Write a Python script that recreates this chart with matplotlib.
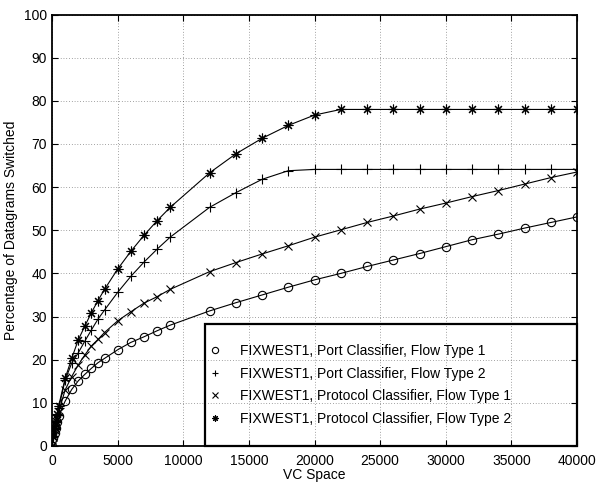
import matplotlib
matplotlib.use('Agg')
import matplotlib.pyplot as plt
from matplotlib.patches import Rectangle
from matplotlib.lines import Line2D

plt.rcParams['font.family'] = ['Liberation Sans', 'DejaVu Sans']

# VC space sample points
vc = [0, 100, 200, 300, 400, 500, 1000, 1500, 2000, 2500, 3000, 3500, 4000,
      5000, 6000, 7000, 8000, 9000, 12000, 14000, 16000, 18000, 20000, 22000,
      24000, 26000, 28000, 30000, 32000, 34000, 36000, 38000, 40000]

port_ft1 = [0, 1.8, 3.0, 4.2, 5.5, 7.0, 10.4, 13.1, 15.1, 16.6, 18.0, 19.3, 20.3,
            22.3, 24.0, 25.3, 26.7, 28.0, 31.3, 33.2, 35.0, 36.8, 38.5, 40.0,
            41.6, 43.1, 44.6, 46.2, 47.8, 49.1, 50.5, 51.8, 53.1]
port_ft2 = [0, 2.2, 4.0, 5.6, 7.2, 8.7, 15.3, 19.2, 21.6, 24.3, 26.9, 29.4, 31.5,
            35.6, 39.3, 42.6, 45.6, 48.4, 55.3, 58.7, 61.8, 63.8, 64.1, 64.1,
            64.1, 64.1, 64.1, 64.1, 64.1, 64.1, 64.1, 64.1, 64.1]
proto_ft1 = [0, 2.0, 3.6, 5.0, 6.3, 7.8, 13.0, 16.1, 18.8, 21.1, 23.2, 24.7, 26.3,
             29.0, 31.1, 33.1, 34.6, 36.3, 40.4, 42.5, 44.5, 46.4, 48.4, 50.1,
             51.8, 53.3, 54.9, 56.3, 57.8, 59.2, 60.7, 62.2, 63.5]
proto_ft2 = [0, 2.3, 4.2, 5.9, 7.5, 9.2, 15.7, 20.3, 24.6, 27.8, 30.9, 33.7, 36.3,
             41.0, 45.1, 48.8, 52.2, 55.3, 63.3, 67.7, 71.3, 74.3, 76.7, 78.0,
             78.0, 78.0, 78.0, 78.0, 78.0, 78.0, 78.0, 78.0, 78.0]

labels = ['FIXWEST1, Port Classifier, Flow Type 1',
          'FIXWEST1, Port Classifier, Flow Type 2',
          'FIXWEST1, Protocol Classifier, Flow Type 1',
          'FIXWEST1, Protocol Classifier, Flow Type 2']
series = [port_ft1, port_ft2, proto_ft1, proto_ft2]
markers = ['o', '+', 'x', (8, 2, 0)]
msizes = [6, 7, 6, 7]

fig = plt.figure(figsize=(5.98, 4.87), dpi=100)
ax = fig.add_axes([0.087, 0.0842, 0.878, 0.886])

for ys, m, ms in zip(series, markers, msizes):
    ax.plot(vc, ys, color='black', linewidth=0.8, marker=m, markersize=ms,
            markerfacecolor='none', markeredgecolor='black', markeredgewidth=0.8)

ax.set_xlim(0, 40000)
ax.set_ylim(0, 100)
ax.set_xticks(range(0, 40001, 5000))
ax.set_yticks(range(0, 101, 10))
ax.ticklabel_format(style='plain', axis='x')
ax.tick_params(direction='in', top=True, right=True, labelsize=10, length=4, width=0.8)
ax.tick_params(axis='x', pad=6)
ax.grid(True, color='black', linestyle=(0, (1, 3)), linewidth=0.5, alpha=0.7)
for s in ax.spines.values():
    s.set_linewidth(1.3)

ax.set_xlabel('VC Space', fontsize=10, labelpad=0)
ax.set_ylabel('Percentage of Datagrams Switched', fontsize=10, labelpad=4)

# legend box in lower right corner, transparent so grid shows through
x0 = 0.2914
h = 0.283
ax.add_patch(Rectangle((x0, 0), 1 - x0, h, transform=ax.transAxes, fill=False,
                       edgecolor='black', linewidth=1.6, zorder=5, clip_on=False))
handles = [Line2D([], [], linestyle='none', marker=m, markersize=4.5,
                  markerfacecolor='none', markeredgecolor='black', markeredgewidth=0.8)
           for m in markers]
ax.legend(handles, labels, loc='center left', bbox_to_anchor=(x0, h / 2),
          frameon=False, fontsize=10, borderaxespad=0, borderpad=0.2,
          handlelength=1.0, handletextpad=1.3, labelspacing=0.62)

fig.savefig('out.png', dpi=100)
